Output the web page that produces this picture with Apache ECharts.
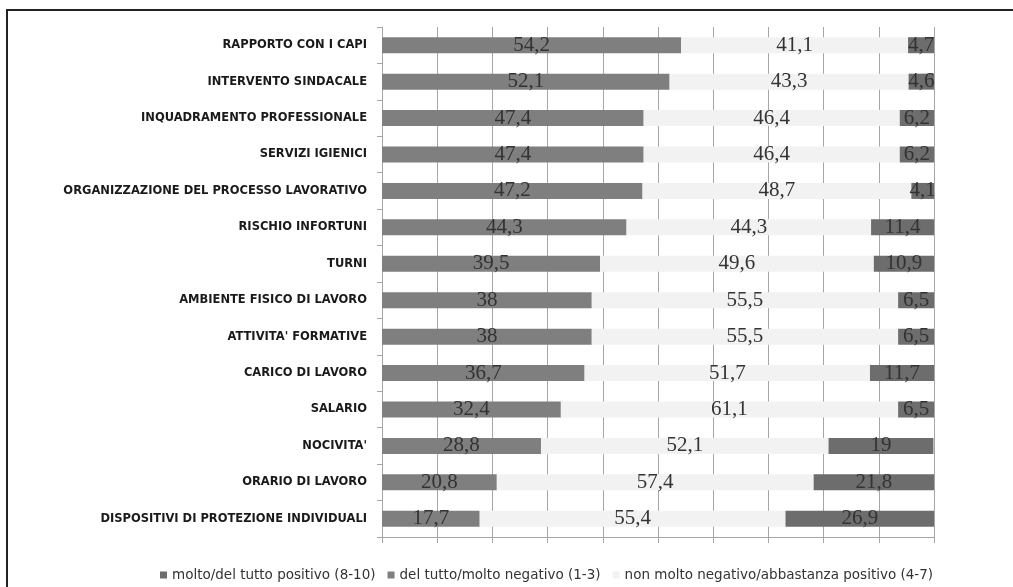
<!DOCTYPE html>
<html>
<head>
<meta charset="utf-8">
<script src="https://cdn.jsdelivr.net/npm/echarts@6/dist/echarts.min.js"></script>
<style>
  html, body { margin: 0; padding: 0; background: #fff; }
  #chart { width: 1013px; height: 587px; }
</style>
</head>
<body>
<div id="chart"></div>
<script>
// Survey aspects, top to bottom
const categories = [
  "RAPPORTO CON I CAPI",
  "INTERVENTO SINDACALE",
  "INQUADRAMENTO PROFESSIONALE",
  "SERVIZI IGIENICI",
  "ORGANIZZAZIONE DEL PROCESSO LAVORATIVO",
  "RISCHIO INFORTUNI",
  "TURNI",
  "AMBIENTE FISICO DI LAVORO",
  "ATTIVITA' FORMATIVE",
  "CARICO DI LAVORO",
  "SALARIO",
  "NOCIVITA'",
  "ORARIO DI LAVORO",
  "DISPOSITIVI DI PROTEZIONE INDIVIDUALI"
];

// Percentages per judgement band
const negativo = [54.2, 52.1, 47.4, 47.4, 47.2, 44.3, 39.5, 38, 38, 36.7, 32.4, 28.8, 20.8, 17.7];
const intermedio = [41.1, 43.3, 46.4, 46.4, 48.7, 44.3, 49.6, 55.5, 55.5, 51.7, 61.1, 52.1, 57.4, 55.4];
const positivo = [4.7, 4.6, 6.2, 6.2, 4.1, 11.4, 10.9, 6.5, 6.5, 11.7, 6.5, 19, 21.8, 26.9];

const seriesNames = [
  "molto/del tutto positivo (8-10)",
  "del tutto/molto negativo (1-3)",
  "non molto negativo/abbastanza positivo (4-7)"
];

const fmt = v => String(v).replace('.', ',');

const labelStyle = {
  show: true,
  position: 'inside',
  fontFamily: '"Liberation Serif", serif',
  fontSize: 21,
  color: '#333',
  formatter: p => fmt(p.value)
};

const chart = echarts.init(document.getElementById('chart'), null, { renderer: 'canvas' });

chart.setOption({
  animation: false,
  backgroundColor: '#fff',
  graphic: [{
    type: 'rect',
    shape: { x: 7, y: 10, width: 1200, height: 800 },
    style: { fill: 'none', stroke: '#222', lineWidth: 2 },
    silent: true,
    z: 100
  }],
  legend: {
    data: seriesNames,
    left: 155,
    top: 563,
    icon: 'rect',
    itemWidth: 7,
    itemHeight: 7,
    itemGap: 12,
    textStyle: { fontFamily: '"DejaVu Sans", sans-serif', fontSize: 13.5, color: '#333' }
  },
  grid: { left: 382, right: 79, top: 27, bottom: 50, containLabel: false },
  xAxis: {
    type: 'value',
    min: 0,
    max: 100,
    interval: 10,
    axisLabel: { show: false },
    axisLine: { show: true, lineStyle: { color: '#a6a6a6', width: 1 } },
    axisTick: { show: true, length: 6, lineStyle: { color: '#a6a6a6' } },
    splitLine: { show: true, lineStyle: { color: '#a6a6a6', width: 1 } }
  },
  yAxis: {
    type: 'category',
    data: categories,
    inverse: true,
    axisLine: { show: true, lineStyle: { color: '#a6a6a6', width: 1 } },
    axisTick: { show: true, length: 5, lineStyle: { color: '#a6a6a6' } },
    axisLabel: {
      margin: 15,
      fontFamily: '"DejaVu Sans", sans-serif',
      fontWeight: 'bold',
      fontSize: 11.5,
      color: '#1a1a1a'
    }
  },
  series: [
    {
      name: seriesNames[1],
      type: 'bar',
      stack: 'tot',
      barWidth: 16,
      data: negativo,
      itemStyle: { color: '#7f7f7f' },
      label: labelStyle
    },
    {
      name: seriesNames[2],
      type: 'bar',
      stack: 'tot',
      barWidth: 16,
      data: intermedio,
      itemStyle: { color: '#f2f2f2' },
      label: labelStyle
    },
    {
      name: seriesNames[0],
      type: 'bar',
      stack: 'tot',
      barWidth: 16,
      data: positivo,
      itemStyle: { color: '#6d6d6d' },
      label: labelStyle
    }
  ]
});
</script>
</body>
</html>
